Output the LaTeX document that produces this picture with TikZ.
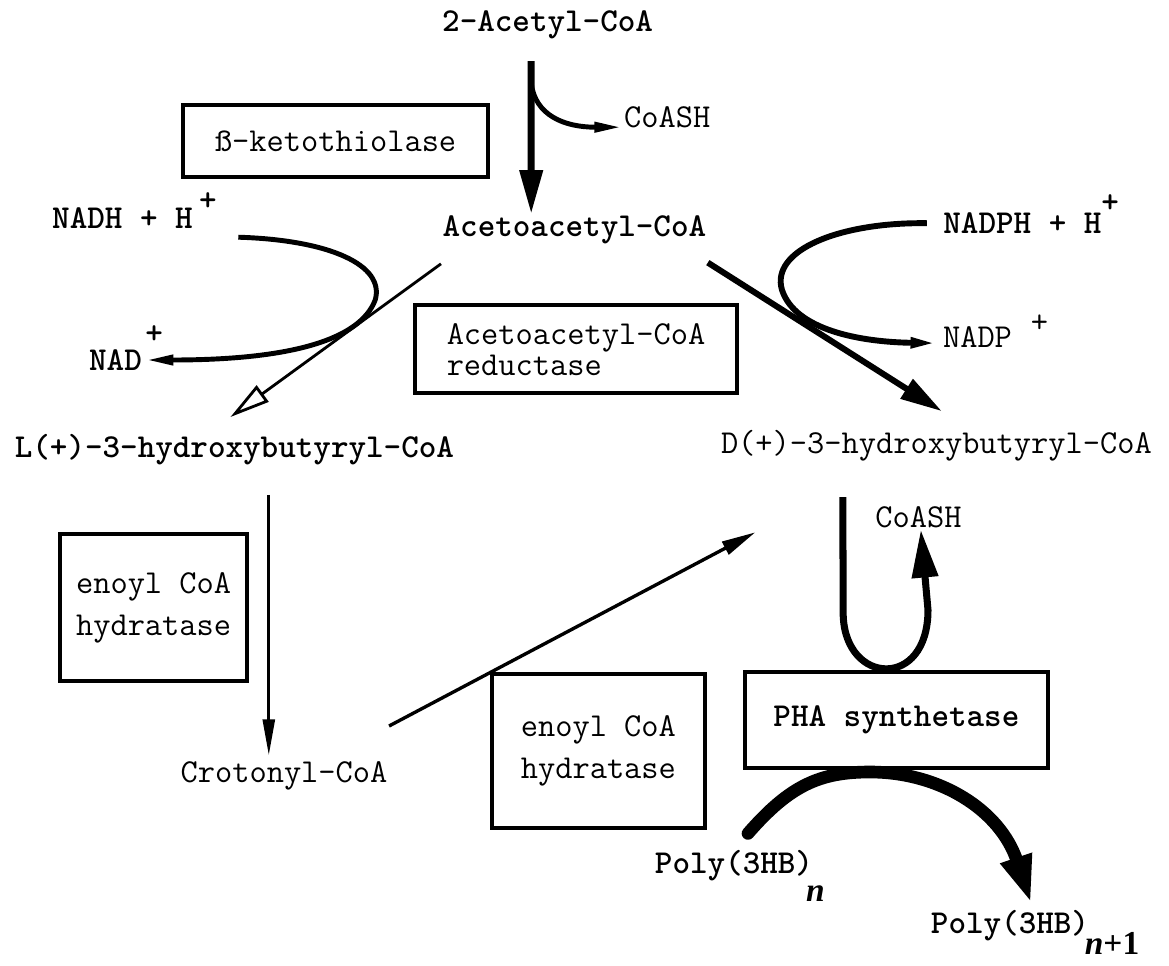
\documentclass[tikz,border=0pt]{standalone}
\usepackage{fontspec}
\setmainfont{Liberation Serif}
\usetikzlibrary{arrows.meta}
\tikzset{
  every picture/.style={font=\ttfamily\fontsize{23.8}{28}\selectfont},
  cpd/.style={inner sep=1pt, font=\ttfamily\bfseries\fontsize{23.8}{28}\selectfont},
  cpdr/.style={inner sep=1pt, font=\ttfamily\fontsize{23.8}{28}\selectfont},
  enz/.style={draw, line width=3.2pt, inner sep=0pt, align=left, font=\ttfamily\fontsize{23.8}{30}\selectfont},
  thinarr/.style={line width=2pt, -{Triangle[length=0.9cm,width=0.3cm]}},
  cofarr/.style={line width=3.5pt, -{Triangle[length=0.7cm,width=0.24cm]}},
  mainarr/.style={line width=4.5pt, -{Triangle[length=1.1cm,width=0.55cm]}},
}
\begin{document}
\begin{tikzpicture}
  \useasboundingbox (0,0) rectangle (29.225,-24.15);
  % compounds
  \node[cpd] (acetyl) at (13.69,-0.63) {2-Acetyl-CoA};
  \node[cpd] (acac) at (14.36,-5.75) {Acetoacetyl-CoA};
  \node[cpdr] (coasha) at (16.68,-2.93) {CoASH};
  \node[cpd] (nadh) at (3.36,-5.45) {NADH + H\kern4.5pt\smash{\raisebox{12.8pt}{+}}};
  \node[cpd] (nad) at (3.15,-9.0) {NAD\kern2.4pt\smash{\raisebox{19pt}{+}}};
  \node[cpd] (nadph) at (25.78,-5.58) {NADPH + H\smash{\raisebox{15pt}{+}}};
  \node[cpdr] (nadp) at (24.89,-8.43) {NADP\kern13.5pt\smash{\raisebox{10.7pt}{+}}};
  \node[cpd] (lhb) at (5.86,-11.25) {L(+)-3-hydroxybutyryl-CoA};
  \node[cpdr] (dhb) at (23.41,-11.13) {D(+)-3-hydroxybutyryl-CoA};
  \node[cpdr] (croton) at (7.1,-19.4) {Crotonyl-CoA};
  \node[cpdr] (coashb) at (22.96,-12.93) {CoASH};
  \node[cpd] (polyn) at (18.35,-21.63) {Poly(3HB)\rlap{\kern-5pt\smash{\raisebox{-20pt}{\rmfamily\itshape n}}}};
  \node[cpd] (polym) at (25.25,-23.13) {Poly(3HB)\rlap{\kern-3pt\smash{\raisebox{-15pt}{\rmfamily{\itshape n}+1}}}};
  % enzymes
  \node[enz, minimum width=7.63cm, minimum height=1.8cm] (kt) at (8.39,-3.53) {ß-ketothiolase};
  \node[enz, minimum width=8.05cm, minimum height=2.2cm, font=\ttfamily\fontsize{23.8}{22}\selectfont] (red) at (14.4,-8.73) {Acetoacetyl-CoA\\reductase};
  \node[enz, minimum width=4.68cm, minimum height=3.68cm] (enl) at (3.84,-15.19) {enoyl CoA\\hydratase};
  \node[enz, minimum width=5.33cm, minimum height=3.85cm] (enr) at (14.96,-18.78) {enoyl CoA\\hydratase};
  \node[enz, minimum width=7.58cm, minimum height=2.4cm, font=\ttfamily\bfseries\fontsize{23.8}{28}\selectfont] (pha) at (22.41,-18.0) {PHA synthetase};
  % thiolase step
  \coordinate (j1) at (13.28,-2.08);
  \draw[mainarr, line width=5pt] ([xshift=-0.41cm,yshift=-0.5cm]acetyl.south) -- ([xshift=-1.08cm]acac.north);
  \draw[cofarr] (j1) .. controls (13.38,-2.88) and (14.1,-3.18) .. ([yshift=-0.25cm]coasha.west);
  % reductases
  \draw[line width=2pt, -{Triangle[open,length=1.0cm,width=0.5cm]}] ([yshift=-0.45cm]acac.south west) -- ([xshift=-0.1cm,yshift=0.4cm]lhb.north);
  \draw[cofarr] ([xshift=0.5cm,yshift=-0.48cm]nadh.east) .. controls (8.25,-6.0) and (9.63,-6.63) .. (9.38,-7.5)
    .. controls (9.0,-8.5) and (7.25,-9.0) .. ([xshift=-0.48cm]nad.east);
  \draw[mainarr, line width=4.3pt, -{Triangle[length=1.05cm,width=0.55cm]}] ([yshift=-0.42cm]acac.south east) -- ([xshift=0.14cm,yshift=0.42cm]dhb.north);
  \draw[cofarr, line width=4.2pt] ([xshift=-0.37cm]nadph.west) .. controls (21.0,-5.55) and (19.25,-6.25) .. (19.55,-7.25)
    .. controls (19.88,-8.25) and (21.5,-8.55) .. ([xshift=-0.07cm,yshift=-0.15cm]nadp.west);
  % hydratases
  \draw[thinarr] ([xshift=0.86cm,yshift=-0.7cm]lhb.south) -- ([xshift=-0.38cm,yshift=0.12cm]croton.north);
  \draw[thinarr, line width=2.4pt, -{Triangle[length=0.85cm,width=0.35cm]}] ([yshift=1.25cm]croton.east) -- ([xshift=0.9cm,yshift=-1.75cm]dhb.south west);
  % synthase
  \draw[mainarr, line width=5pt, -{Triangle[length=1.2cm,width=0.63cm]}] ([xshift=-2.34cm,yshift=-0.87cm]dhb.south) -- (21.08,-15.38)
    .. controls (21.13,-17.13) and (23.2,-17.25) .. (23.2,-15.25) -- ([xshift=0.06cm]coashb.south);
  \draw[line width=9pt, line cap=round, -{Triangle[length=1.2cm,width=0.75cm]}] ([xshift=0.35cm,yshift=0.37cm]polyn.north)
    .. controls (19.75,-19.63) and (20.5,-19.3) .. (21.75,-19.3)
    .. controls (23.5,-19.3) and (25.0,-20.25) .. ([xshift=0.53cm,yshift=0.12cm]polym.north);
\end{tikzpicture}
\end{document}
